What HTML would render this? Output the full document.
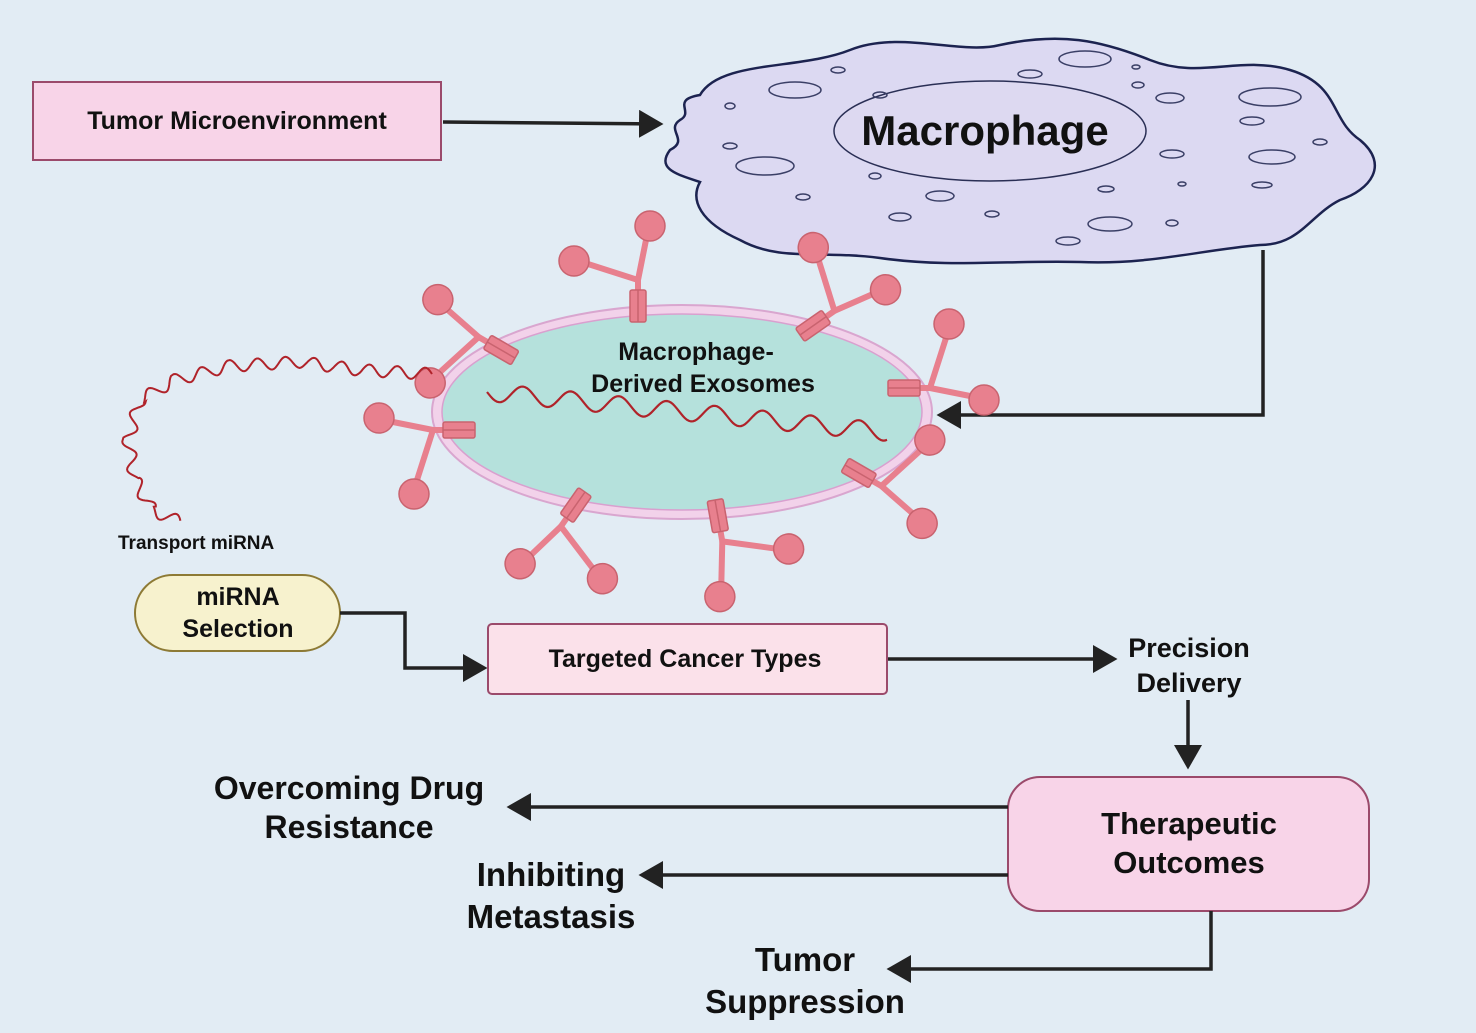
<!DOCTYPE html>
<html><head><meta charset="utf-8"><style>
body{margin:0;width:1476px;height:1033px;background:#e2ecf4;overflow:hidden}
svg{display:block}
text{font-family:"Liberation Sans",sans-serif;font-weight:bold;fill:#111}
</style></head><body>
<svg width="1476" height="1033" viewBox="0 0 1476 1033">
<defs>
<marker id="ah" markerWidth="8" markerHeight="8" refX="6" refY="4" orient="auto" markerUnits="strokeWidth">
<path d="M0,0 L7,4 L0,8 Z" fill="#222"/></marker>
<g id="ab">
<g fill="#e8808e" stroke="#c9636f" stroke-width="1.5">
<path d="M0,-42 L-50,-58" stroke="#e8808e" stroke-width="6" fill="none"/>
<path d="M0,-42 L8,-82" stroke="#e8808e" stroke-width="6" fill="none"/>
<path d="M0,-30 L0,-44" stroke="#e8808e" stroke-width="6" fill="none"/>
<rect x="-8" y="-32" width="16" height="32" rx="2"/>
<line x1="0" y1="-32" x2="0" y2="0"/>
<circle cx="-64" cy="-61" r="15"/>
<circle cx="12" cy="-96" r="15"/>
</g></g>
</defs>
<rect x="33" y="82" width="408" height="78" fill="#f8d4e8" stroke="#9b4a6b" stroke-width="2"/>
<text x="237" y="129" font-size="25" text-anchor="middle">Tumor Microenvironment</text>
<line x1="443" y1="122" x2="660" y2="124" stroke="#222" stroke-width="3.5" marker-end="url(#ah)"/>
<path d="M700,95 C720,60 800,70 850,50 C900,30 960,55 1000,45 C1060,32 1100,40 1150,60 C1200,80 1240,55 1290,70 C1340,85 1330,120 1360,140 C1390,165 1370,190 1340,200 C1310,215 1300,245 1260,245 C1200,250 1150,265 1080,262 C1010,260 950,268 880,258 C820,250 780,262 740,240 C700,222 690,200 700,182 C680,175 655,170 670,150 C690,140 665,130 680,120 C695,112 670,100 700,95 Z" fill="#dcd9f2" stroke="#1c2350" stroke-width="2.5"/>
<ellipse cx="990" cy="131" rx="156" ry="50" fill="#ddd9f1" stroke="#2a2f55" stroke-width="1.5"/>
<text x="985" y="145" font-size="42" text-anchor="middle">Macrophage</text>
<g fill="none" stroke="#3a3f66" stroke-width="1.5">
<ellipse cx="795" cy="90" rx="26" ry="8"/><ellipse cx="765" cy="166" rx="29" ry="9"/>
<ellipse cx="838" cy="70" rx="7" ry="3"/><ellipse cx="730" cy="106" rx="5" ry="3"/>
<ellipse cx="730" cy="146" rx="7" ry="3"/><ellipse cx="803" cy="197" rx="7" ry="3"/>
<ellipse cx="875" cy="176" rx="6" ry="3"/><ellipse cx="940" cy="196" rx="14" ry="5"/>
<ellipse cx="900" cy="217" rx="11" ry="4"/><ellipse cx="992" cy="214" rx="7" ry="3"/>
<ellipse cx="1068" cy="241" rx="12" ry="4"/><ellipse cx="1110" cy="224" rx="22" ry="7"/>
<ellipse cx="1106" cy="189" rx="8" ry="3"/><ellipse cx="1172" cy="154" rx="12" ry="4"/>
<ellipse cx="1182" cy="184" rx="4" ry="2"/><ellipse cx="1172" cy="223" rx="6" ry="3"/>
<ellipse cx="1262" cy="185" rx="10" ry="3"/><ellipse cx="1272" cy="157" rx="23" ry="7"/>
<ellipse cx="1252" cy="121" rx="12" ry="4"/><ellipse cx="1270" cy="97" rx="31" ry="9"/>
<ellipse cx="1170" cy="98" rx="14" ry="5"/><ellipse cx="1085" cy="59" rx="26" ry="8"/>
<ellipse cx="1030" cy="74" rx="12" ry="4"/><ellipse cx="1136" cy="67" rx="4" ry="2"/>
<ellipse cx="1138" cy="85" rx="6" ry="3"/><ellipse cx="1320" cy="142" rx="7" ry="3"/>
<ellipse cx="880" cy="95" rx="7" ry="3"/>
</g>
<polyline points="1263,250 1263,415 940,415" fill="none" stroke="#222" stroke-width="3.5" marker-end="url(#ah)"/>
<ellipse cx="682" cy="412" rx="250" ry="107" fill="#f2d2ea" stroke="#d9a6cf" stroke-width="2"/>
<ellipse cx="682" cy="412" rx="240" ry="98" fill="#b5e1dc" stroke="#d9a0cf" stroke-width="1.5"/>
<use href="#ab" transform="translate(638,322) rotate(0)"/>
<use href="#ab" transform="translate(800,335) rotate(55)"/>
<use href="#ab" transform="translate(888,388) rotate(90)"/>
<use href="#ab" transform="translate(845,465) rotate(120)"/>
<use href="#ab" transform="translate(715,500) rotate(170)"/>
<use href="#ab" transform="translate(585,492) rotate(215)"/>
<use href="#ab" transform="translate(475,430) rotate(270)"/>
<use href="#ab" transform="translate(515,358) rotate(300)"/>
<path id="w1" fill="none" stroke="#b0232a" stroke-width="2.2"/>
<path id="w2" fill="none" stroke="#b0232a" stroke-width="2"/>
<text x="696" y="360" font-size="25" text-anchor="middle">Macrophage-</text>
<text x="703" y="392" font-size="25" text-anchor="middle">Derived Exosomes</text>
<text x="118" y="549" font-size="19">Transport miRNA</text>
<rect x="135" y="575" width="205" height="76" rx="38" fill="#f7f2ce" stroke="#8d7a35" stroke-width="2"/>
<text x="238" y="605" font-size="25" text-anchor="middle">miRNA</text>
<text x="238" y="637" font-size="25" text-anchor="middle">Selection</text>
<polyline points="340,613 405,613 405,668 484,668" fill="none" stroke="#222" stroke-width="3.5" marker-end="url(#ah)"/>
<rect x="488" y="624" width="399" height="70" rx="4" fill="#fbe1ea" stroke="#9b4a6b" stroke-width="2"/>
<text x="685" y="667" font-size="25" text-anchor="middle">Targeted Cancer Types</text>
<line x1="888" y1="659" x2="1114" y2="659" stroke="#222" stroke-width="3.5" marker-end="url(#ah)"/>
<text x="1189" y="657" font-size="27" text-anchor="middle">Precision</text>
<text x="1189" y="692" font-size="27" text-anchor="middle">Delivery</text>
<line x1="1188" y1="700" x2="1188" y2="766" stroke="#222" stroke-width="3.5" marker-end="url(#ah)"/>
<rect x="1008" y="777" width="361" height="134" rx="32" fill="#f8d4e8" stroke="#9b4a6b" stroke-width="2"/>
<text x="1189" y="834" font-size="31" text-anchor="middle">Therapeutic</text>
<text x="1189" y="873" font-size="31" text-anchor="middle">Outcomes</text>
<line x1="1008" y1="807" x2="510" y2="807" stroke="#222" stroke-width="3.5" marker-end="url(#ah)"/>
<line x1="1008" y1="875" x2="642" y2="875" stroke="#222" stroke-width="3.5" marker-end="url(#ah)"/>
<polyline points="1211,911 1211,969 890,969" fill="none" stroke="#222" stroke-width="3.5" marker-end="url(#ah)"/>
<text x="349" y="799" font-size="32" text-anchor="middle">Overcoming Drug</text>
<text x="349" y="838" font-size="32" text-anchor="middle">Resistance</text>
<text x="551" y="886" font-size="33" text-anchor="middle">Inhibiting</text>
<text x="551" y="928" font-size="33" text-anchor="middle">Metastasis</text>
<text x="805" y="971" font-size="33" text-anchor="middle">Tumor</text>
<text x="805" y="1013" font-size="33" text-anchor="middle">Suppression</text>
</svg>
<script>
(function(){
 // exosome wave: from 487,392 to 887,432
 var d="";
 for(var i=0;i<=400;i+=2){
  var x=487+i, y=392+i*0.1+9*Math.sin(i/48*2*Math.PI);
  d+=(i?"L":"M")+x.toFixed(1)+","+y.toFixed(1);
 }
 document.getElementById("w1").setAttribute("d",d);
 // transport strand: polyline path with perpendicular sine
 var pts=[[432,374],[360,370],[300,362],[230,366],[175,380],[140,400],[128,440],[135,480],[152,510],[180,522]];
 var L=[0],tot=0;
 for(var k=1;k<pts.length;k++){tot+=Math.hypot(pts[k][0]-pts[k-1][0],pts[k][1]-pts[k-1][1]);L.push(tot);}
 var e="";
 for(var s=0;s<=tot;s+=1.5){
  var k=1;while(k<L.length-1&&L[k]<s)k++;
  var a=pts[k-1],b=pts[k],t=(s-L[k-1])/(L[k]-L[k-1]);
  var dx=b[0]-a[0],dy=b[1]-a[1],n=Math.hypot(dx,dy);
  var amp=6*Math.sin(s/28*2*Math.PI);
  var x=a[0]+dx*t-dy/n*amp,y=a[1]+dy*t+dx/n*amp;
  e+=(s?"L":"M")+x.toFixed(1)+","+y.toFixed(1);
 }
 document.getElementById("w2").setAttribute("d",e);
})();
</script>
</body></html>
